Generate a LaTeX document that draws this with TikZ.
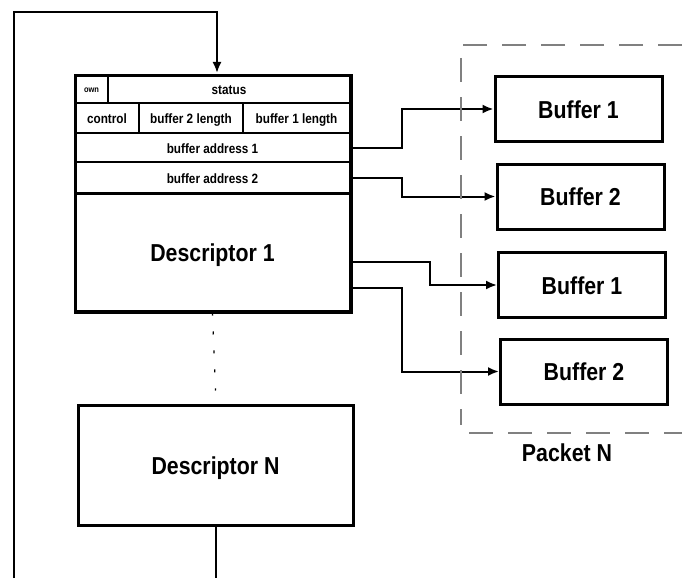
\documentclass[tikz,border=0pt]{standalone}
\usepackage{fontspec}
\setmainfont{Liberation Sans}[FakeStretch=0.87]
\usepackage{tikz}
\usetikzlibrary{positioning}
\usetikzlibrary{arrows.meta}

\begin{document}
\begin{tikzpicture}[x=1pt,y=-1pt]
	\tikzstyle{CellStyle}   = [draw, line width=1.2pt, outer sep=0pt, inner sep=0pt, text height=11pt, text depth=0pt, font=\bfseries\fontsize{13.5}{14}\selectfont]
	\tikzstyle{BigText}     = [text height=18pt, text depth=0pt, font=\bfseries\fontsize{24.5}{26}\selectfont]
	\tikzstyle{DescStyle}   = [draw, BigText, line width=3pt, minimum width=275pt]
	\tikzstyle{BufStyle}    = [draw, BigText, line width=3pt, minimum width=167pt, minimum height=65pt]
	\tikzstyle{EdgeStyle}   = [-{Latex[length=11pt,width=9pt]}, line width=2pt]
	\tikzstyle{PacketStyle} = [draw=gray, line width=1.2pt, dash pattern=on 24pt off 15pt]
	\useasboundingbox (0,0) rectangle (682,578);
	% descriptor 1 fields
	\node[CellStyle, minimum width=33pt, minimum height=28pt, text height=7pt, font=\bfseries\fontsize{8.6}{9}\selectfont] (own) at (91.5,89) {own};
	\node[CellStyle, minimum width=242pt, minimum height=28pt] (status) at (229,89) {status};
	\node[CellStyle, minimum width=64pt, minimum height=30pt] (control) at (107,118) {control};
	\node[CellStyle, minimum width=104pt, minimum height=30pt] (blen2) at (191,118) {buffer 2 length};
	\node[CellStyle, minimum width=107pt, minimum height=30pt] (blen1) at (296.5,118) {buffer 1 length};
	\node[CellStyle, minimum width=275pt, minimum height=29pt] (addr1) at (212.5,147.5) {buffer address 1};
	\node[CellStyle, minimum width=275pt, minimum height=31pt] (addr2) at (212.5,177.5) {buffer address 2};
	\node[DescStyle, minimum height=118pt] (desc1) at (212.5,252) {Descriptor 1};
	\draw[line width=3pt] (own.north west) rectangle (desc1.south east);
	\node[DescStyle, minimum height=120pt] (descN) at (215.5,465) {Descriptor N};
	% buffers
	\node[BufStyle] (bufA1) at (578.5,109) {Buffer 1};
	\node[BufStyle] (bufA2) at (580.5,196.5) {Buffer 2};
	\node[BufStyle] (bufB1) at (582,285) {Buffer 1};
	\node[BufStyle] (bufB2) at (584,371.5) {Buffer 2};
	\draw[EdgeStyle] (addr1.east) -- ++(52,0) |- (bufA1.west);
	\draw[EdgeStyle] (addr2.east) -- ++(52,0) |- (bufA2.west);
	\draw[EdgeStyle] ([yshift=-10pt]desc1.east) -- ++(78,0) |- (bufB1.west);
	\draw[EdgeStyle] ([yshift=-36pt]desc1.east) -- ++(50,0) |- (bufB2.west);
	% packet frame
	\draw[PacketStyle] (682,45) -- (461,45) -- (461,425);
	\draw[PacketStyle] (469,433) -- (682,433);
	\node[BigText] (packet) at (567,452) {Packet N};
	% ring
	\draw[line width=1.3pt, dash pattern=on 3pt off 16pt] (desc1.south) -- ([yshift=13pt]descN.north);
	\coordinate (loopBL) at (14,578);
	\coordinate (loopTL) at (14,12);
	\coordinate (loopIn) at (217,73);
	\coordinate (loopOut) at (descN.south |- loopBL);
	\draw[line width=2pt] (descN.south) -- (loopOut);
	\draw[EdgeStyle] (loopBL) -- (loopTL) -| (loopIn);
\end{tikzpicture}
\end{document}
